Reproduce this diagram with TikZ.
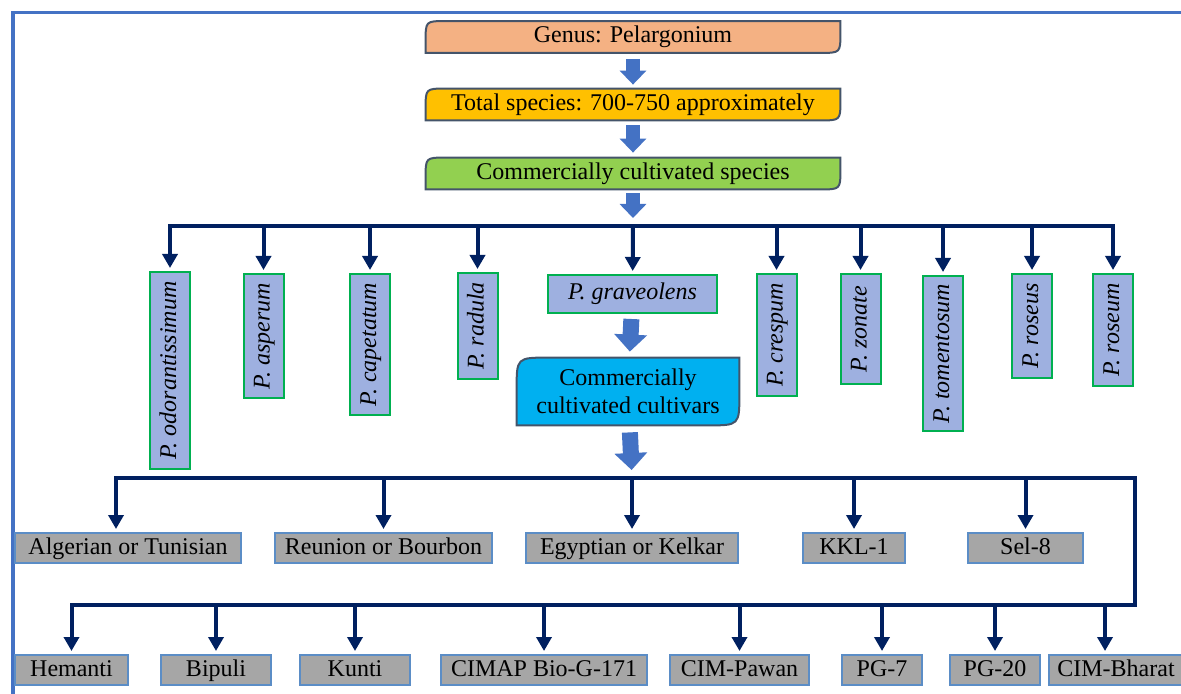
\documentclass[tikz,border=0pt]{standalone}
\usepackage{fontspec}
\setmainfont{Liberation Serif}
\usetikzlibrary{arrows.meta, backgrounds}
\definecolor{cframe}{HTML}{4472C4}
\definecolor{cnavy}{HTML}{002060}
\definecolor{cedge}{HTML}{44546A}
\definecolor{csalmon}{HTML}{F4B183}
\definecolor{cgold}{HTML}{FFC000}
\definecolor{clime}{HTML}{92D050}
\definecolor{csky}{HTML}{00B0F0}
\definecolor{cspec}{HTML}{9EB0E0}
\definecolor{cgreenb}{HTML}{00B050}
\definecolor{cgray}{HTML}{A6A6A6}
\definecolor{csteel}{HTML}{5B8DC6}
\tikzset{
  every picture/.style={font=\fontsize{12}{14}\selectfont},
  headbox/.style={minimum width=207pt, minimum height=15.5pt, inner sep=0pt, align=center},
  specbox/.style={draw=cgreenb, fill=cspec, line width=1pt, rotate=90, minimum height=20pt, inner sep=1pt, text height=8.5pt, text depth=2.5pt, font=\fontsize{12}{14}\selectfont\itshape},
  cultbox/.style={draw=csteel, fill=cgray, line width=1pt, minimum height=15pt, inner sep=0pt, text height=8.5pt, text depth=2.5pt},
  link/.style={-{Triangle[width=7.5pt,length=7pt]}, draw=cnavy, line width=2pt, shorten >=1.5pt},
  blockarrow/.style={-{Triangle[width=13pt,length=7pt]}, draw=cframe, line width=7pt},
  bigarrow/.style={-{Triangle[width=16pt,length=8.5pt]}, draw=cframe, line width=8pt},
  rdedge/.style={draw=cedge, line width=1pt},
}
% round diagonal corners: top left and bottom right
\newcommand\rdiag[2]{(#1.south west) -- ([yshift=-#2]#1.north west) .. controls (#1.north west) .. ([xshift=#2]#1.north west) -- (#1.north east) -- ([yshift=#2]#1.south east) .. controls (#1.south east) .. ([xshift=-#2]#1.south east) -- cycle}

\begin{document}
\begin{tikzpicture}[x=0.5pt, y=-0.5pt]
  \useasboundingbox (0,0) rectangle (1181,694);
  \draw[cframe, line width=1.75pt] (13,700) -- (13,12.5) -- (1190,12.5);
  % ---------- top chain
  \node[headbox, text height=8.5pt, text depth=2.5pt] (genus) at (633,37) {Genus: Pelargonium};
  \node[headbox, text height=8.5pt, text depth=2.5pt] (total) at (633,104.5) {Total species: 700-750 approximately};
  \node[headbox, text height=8.5pt, text depth=2.5pt] (cultspec) at (633,173.5) {Commercially cultivated species};
  \begin{scope}[on background layer]
    \filldraw[rdedge, fill=csalmon] \rdiag{genus}{10pt};
    \filldraw[rdedge, fill=cgold] \rdiag{total}{10pt};
    \filldraw[rdedge, fill=clime] \rdiag{cultspec}{10pt};
  \end{scope}
  \draw[blockarrow, shorten <=3pt, shorten >=2pt] (genus) -- (total);
  \draw[blockarrow, shorten <=2.5pt, shorten >=2.5pt] (total) -- (cultspec);
  \coordinate (hub1) at (633,226);
  \draw[blockarrow, shorten <=2pt, shorten >=4pt] (cultspec) -- (hub1);
  % ---------- species
  \node[specbox, anchor=east, minimum width=98.5pt] (p1) at (170,271) {P. odorantissimum};
  \node[specbox, anchor=east, minimum width=62pt] (p2) at (263.5,273) {P. asperum};
  \node[specbox, anchor=east, minimum width=70.5pt] (p3) at (370,273) {P. capetatum};
  \node[specbox, anchor=east, minimum width=53pt] (p4) at (477.5,272) {P. radula};
  \node[specbox, rotate=-90, minimum width=84.5pt, minimum height=19pt] (p5) at (632.5,294) {P. graveolens};
  \node[specbox, anchor=east, minimum width=61pt] (p6) at (776.5,273) {P. crespum};
  \node[specbox, anchor=east, minimum width=55pt] (p7) at (860.5,273) {P. zonate};
  \node[specbox, anchor=east, minimum width=77.5pt] (p8) at (943,275) {P. tomentosum};
  \node[specbox, anchor=east, minimum width=52pt] (p9) at (1032,273) {P. roseus};
  \node[specbox, anchor=east, minimum width=56pt] (p10) at (1113,273) {P. roseum};
  \foreach \p in {p1,p2,p3,p4,p6,p7,p8,p9,p10} \draw[link] (hub1) -| (\p.east);
  \draw[link] (hub1) -- (p5);
  % ---------- cultivars
  \node[headbox, minimum width=111pt, minimum height=33.5pt] (cv) at (628,391.5) {Commercially\\cultivated cultivars};
  \begin{scope}[on background layer]
    \filldraw[rdedge, fill=csky] \rdiag{cv}{16pt};
  \end{scope}
  \draw[bigarrow, shorten <=2.5pt, shorten >=3pt] (p5) -- (cv);
  \coordinate (hub2) at (632,478);
  \coordinate (hub3) at (1135,605);
  \draw[bigarrow, shorten <=3.5pt, shorten >=4pt] (cv) -- (hub2);
  \node[cultbox, minimum width=113pt] (c1) at (128,548) {Algerian or Tunisian};
  \node[cultbox, minimum width=108.5pt] (c2) at (383.5,548) {Reunion or Bourbon};
  \node[cultbox, minimum width=106pt] (c3) at (632,548) {Egyptian or Kelkar};
  \node[cultbox, minimum width=51pt] (c4) at (854,548) {KKL-1};
  \node[cultbox, minimum width=57.5pt] (c5) at (1025.5,548) {Sel-8};
  \draw[link] (hub2) -| ([xshift=-6pt]c1.north);
  \foreach \c in {c2,c3,c4,c5} \draw[link] (hub2) -| (\c.north);
  \node[cultbox, minimum width=56.5pt] (d1) at (71.5,670) {Hemanti};
  \node[cultbox, minimum width=55pt] (d2) at (216,670) {Bipuli};
  \node[cultbox, minimum width=55pt] (d3) at (355,670) {Kunti};
  \node[cultbox, minimum width=103pt] (d4) at (544,670) {CIMAP Bio-G-171};
  \node[cultbox, minimum width=69.5pt] (d5) at (739.5,670) {CIM-Pawan};
  \node[cultbox, minimum width=40pt] (d6) at (882,670) {PG-7};
  \node[cultbox, minimum width=45pt] (d7) at (995,670) {PG-20};
  \node[cultbox, minimum width=67pt] (d8) at (1116,670) {CIM-Bharat};
  \draw[link] (hub2) -| (hub3) -| (d1.north);
  \foreach \d in {d2,d3,d4,d5,d6,d7} \draw[link] (hub3) -| (\d.north);
  \draw[link] (hub3) -| ([xshift=-5.5pt]d8.north);
\end{tikzpicture}
\end{document}
